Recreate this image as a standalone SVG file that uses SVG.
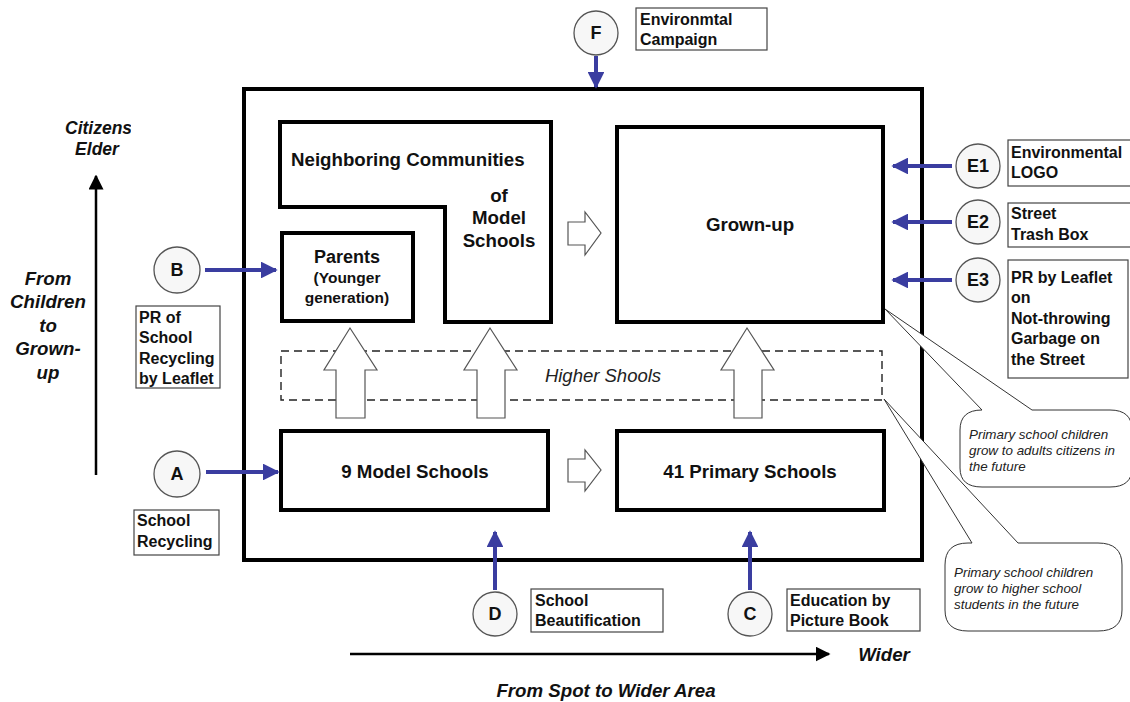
<svg xmlns="http://www.w3.org/2000/svg" width="1130" height="702" viewBox="0 0 1130 702">
<style>
.t{font-family:"Liberation Sans",Arial,sans-serif;font-weight:bold;font-size:16px;fill:#111}
.tc{text-anchor:middle}
.it{font-family:"Liberation Sans",Arial,sans-serif;font-style:italic;font-size:13.4px;fill:#222}
.ax{font-family:"Liberation Sans",Arial,sans-serif;font-style:italic;font-weight:bold;font-size:18.7px;fill:#111;text-anchor:middle}
.box{fill:#fff;stroke:#000;stroke-width:4}
.lbl{fill:#fff;stroke:#444;stroke-width:1.2}
.cir{fill:#f7f7f7;stroke:#555;stroke-width:1.3}
.cl{font-family:"Liberation Sans",Arial,sans-serif;font-weight:bold;font-size:18px;fill:#111;text-anchor:middle}
.blue{stroke:#3a3da0;stroke-width:4;fill:none}
.ha{fill:#fff;stroke:#555;stroke-width:1.2}
.bub{fill:#fff;stroke:#333;stroke-width:1}
.big{font-size:18.7px}
</style>
<defs>
<marker id="bh" viewBox="0 0 10 10" refX="9" refY="5" markerWidth="4.2" markerHeight="4.2" orient="auto" markerUnits="strokeWidth">
<path d="M0,0 L10,5 L0,10 z" fill="#3a3da0"/>
</marker>
<marker id="kh" viewBox="0 0 10 10" refX="9" refY="5" markerWidth="6" markerHeight="6" orient="auto" markerUnits="strokeWidth">
<path d="M0,0 L10,5 L0,10 z" fill="#000"/>
</marker>
<clipPath id="cit"><rect x="0" y="110" width="131" height="40"/></clipPath>
</defs>

<g id="frame"><rect x="244" y="89" width="678" height="471" fill="#fff" stroke="#000" stroke-width="4"/></g>

<g id="higher-schools">
<rect x="281" y="351" width="601" height="49" fill="none" stroke="#222" stroke-width="1.4" stroke-dasharray="8,5"/>
<text class="it" x="603" y="382" text-anchor="middle" style="font-size:18.5px">Higher Shools</text>
</g>

<g id="neighboring">
<path class="box" d="M280,122 L551,122 L551,322 L445,322 L445,207 L280,207 Z"/>
<text class="t big" x="291" y="166">Neighboring Communities</text>
<text class="t tc big" x="499" y="202">of</text>
<text class="t tc big" x="499" y="224">Model</text>
<text class="t tc big" x="499" y="247">Schools</text>
</g>

<g id="parents">
<rect class="box" x="282" y="233" width="131" height="88"/>
<text class="t tc" x="347" y="263" style="font-size:18px">Parents</text>
<text class="t tc" x="347" y="283" style="font-size:15.5px">(Younger</text>
<text class="t tc" x="347" y="303" style="font-size:15.5px">generation)</text>
</g>

<g id="grown-up">
<rect class="box" x="617" y="127" width="266" height="195"/>
<text class="t tc big" x="750" y="231">Grown-up</text>
</g>

<g id="model-schools">
<rect class="box" x="281" y="431" width="267" height="79"/>
<text class="t tc big" x="415" y="478">9 Model Schools</text>
</g>

<g id="primary-schools">
<rect class="box" x="617" y="431" width="267" height="79"/>
<text class="t tc big" x="750" y="478">41 Primary Schools</text>
</g>

<g id="block-arrows">
<path class="ha" d="M336,418 L336,370 L324,370 L350,328 L377,370 L365,370 L365,418 Z"/>
<path class="ha" d="M477,418 L477,370 L464,370 L490,328 L517,370 L505,370 L505,418 Z"/>
<path class="ha" d="M734,418 L734,370 L721,370 L747,328 L774,370 L762,370 L762,418 Z"/>
<path class="ha" d="M568,222 L585,222 L585,212 L601,233 L585,255 L585,245 L568,245 Z"/>
<path class="ha" d="M568,459 L585,459 L585,450 L601,470 L585,491 L585,482 L568,482 Z"/>
</g>

<g id="connectors">
<line class="blue" x1="596" y1="56" x2="596" y2="87" marker-end="url(#bh)"/>
<line class="blue" x1="952" y1="166" x2="893" y2="166" marker-end="url(#bh)"/>
<line class="blue" x1="952" y1="222" x2="893" y2="222" marker-end="url(#bh)"/>
<line class="blue" x1="952" y1="280" x2="893" y2="280" marker-end="url(#bh)"/>
<line class="blue" x1="205" y1="270" x2="276" y2="270" marker-end="url(#bh)"/>
<line class="blue" x1="206" y1="472" x2="278" y2="472" marker-end="url(#bh)"/>
<line class="blue" x1="495" y1="590" x2="495" y2="532" marker-end="url(#bh)"/>
<line class="blue" x1="750" y1="590" x2="750" y2="532" marker-end="url(#bh)"/>
<line x1="96" y1="475" x2="96" y2="176" stroke="#000" stroke-width="2.5" marker-end="url(#kh)"/>
<line x1="350" y1="654" x2="829" y2="654" stroke="#000" stroke-width="2.5" marker-end="url(#kh)"/>
</g>

<g id="circle-F"><circle class="cir" cx="596" cy="33" r="22"/><text class="cl" x="596" y="39">F</text></g>
<g id="circle-E1"><circle class="cir" cx="978" cy="166" r="22"/><text class="cl" x="978" y="172">E1</text></g>
<g id="circle-E2"><circle class="cir" cx="978" cy="222" r="22"/><text class="cl" x="978" y="228">E2</text></g>
<g id="circle-E3"><circle class="cir" cx="978" cy="280" r="22"/><text class="cl" x="978" y="286">E3</text></g>
<g id="circle-B"><circle class="cir" cx="177" cy="270" r="23"/><text class="cl" x="177" y="276">B</text></g>
<g id="circle-A"><circle class="cir" cx="177" cy="474" r="23"/><text class="cl" x="177" y="480">A</text></g>
<g id="circle-D"><circle class="cir" cx="495" cy="614" r="22"/><text class="cl" x="495" y="620">D</text></g>
<g id="circle-C"><circle class="cir" cx="750" cy="614" r="22"/><text class="cl" x="750" y="620">C</text></g>

<g id="label-F"><rect class="lbl" x="636" y="8" width="131" height="42"/>
<text class="t" x="640" y="25">Environmtal</text><text class="t" x="640" y="45">Campaign</text></g>
<g id="label-E1"><rect class="lbl" x="1008" y="140" width="124" height="46"/>
<text class="t" x="1011" y="158">Environmental</text><text class="t" x="1011" y="178">LOGO</text></g>
<g id="label-E2"><rect class="lbl" x="1008" y="203" width="124" height="44"/>
<text class="t" x="1011" y="219">Street</text><text class="t" x="1011" y="240">Trash Box</text></g>
<g id="label-E3"><rect class="lbl" x="1008" y="260" width="120" height="118"/>
<text class="t" x="1011" y="283">PR by Leaflet</text><text class="t" x="1011" y="303">on</text>
<text class="t" x="1011" y="324">Not-throwing</text><text class="t" x="1011" y="344">Garbage on</text><text class="t" x="1011" y="365">the Street</text></g>
<g id="label-B"><rect class="lbl" x="136" y="306" width="84" height="82"/>
<text class="t" x="139" y="323">PR of</text><text class="t" x="139" y="343">School</text>
<text class="t" x="139" y="364">Recycling</text><text class="t" x="139" y="384">by Leaflet</text></g>
<g id="label-A"><rect class="lbl" x="134" y="510" width="85" height="45"/>
<text class="t" x="137" y="526">School</text><text class="t" x="137" y="547">Recycling</text></g>
<g id="label-D"><rect class="lbl" x="531" y="589" width="132" height="43"/>
<text class="t" x="535" y="606">School</text><text class="t" x="535" y="626">Beautification</text></g>
<g id="label-C"><rect class="lbl" x="787" y="589" width="133" height="42"/>
<text class="t" x="790" y="606">Education by</text><text class="t" x="790" y="626">Picture Book</text></g>

<g id="callout-adults">
<path class="bub" d="M982,410 L885,309 L1032,410 L1110,410 Q1132,410 1132,430 L1132,468 Q1132,487 1110,487 L982,487 Q960,487 960,468 L960,430 Q960,410 982,410 Z"/>
<text class="it" x="969" y="439">Primary school children</text>
<text class="it" x="969" y="455">grow to adults citizens in</text>
<text class="it" x="969" y="471">the future</text>
</g>
<g id="callout-higher">
<path class="bub" d="M972,543 L884,399 L1018,543 L1098,543 Q1122,543 1122,565 L1122,610 Q1122,631 1098,631 L968,631 Q945,631 945,610 L945,565 Q945,543 968,543 Z"/>
<text class="it" x="954" y="577">Primary school children</text>
<text class="it" x="954" y="593">grow to higher school</text>
<text class="it" x="954" y="609">students in the future</text>
</g>

<g id="axes-text">
<text class="ax" x="65" y="134" clip-path="url(#cit)" style="font-size:17.5px;text-anchor:start">Citizens</text>
<text class="ax" x="97" y="155" style="font-size:17.5px">Elder</text>
<text class="ax" x="48" y="285">From</text>
<text class="ax" x="48" y="308">Children</text>
<text class="ax" x="48" y="332">to</text>
<text class="ax" x="48" y="355">Grown-</text>
<text class="ax" x="48" y="379">up</text>
<text class="ax" x="884" y="661">Wider</text>
<text class="ax" x="606" y="697">From Spot to Wider Area</text>
</g>
</svg>
